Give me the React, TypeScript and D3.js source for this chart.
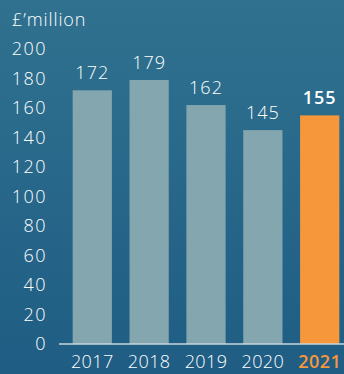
import React from "react";
import * as d3 from "d3";

const years = ["2017", "2018", "2019", "2020", "2021"];
const values = [172, 179, 162, 145, 155];
const yTicks = [0, 20, 40, 60, 80, 100, 120, 140, 160, 180, 200];
const unitLabel = "£’million";

const W = 344;
const H = 374;
const FONT = "'Open Sans', sans-serif";

export default function App() {
  const x = d3.scaleBand<string>().domain(years).range([63, 349]).paddingInner(0.31).paddingOuter(0.17);
  const y = d3.scaleLinear().domain([0, 200]).range([344, 49]);
  const last = years.length - 1;
  return (
    <svg width={W} height={H} style={{ position: "absolute", left: 0, top: 0, display: "block" }}>
      <defs>
        <linearGradient id="bg" x1="0" y1="0" x2="0" y2="1">
          <stop offset="0" stopColor="#30718f" />
          <stop offset="1" stopColor="#1f5d84" />
        </linearGradient>
      </defs>
      <rect x={0} y={0} width={W} height={H} fill="url(#bg)" />
      <text x={12} y={26} fill="#ffffff" fontFamily={FONT} fontSize={18} fontWeight={300} letterSpacing={0.9}>{unitLabel}</text>
      {yTicks.map((t) => (
        <text key={t} x={47} y={y(t)} dy="0.36em" textAnchor="end" fill="#ffffff" fontFamily={FONT} fontSize={18} fontWeight={300} letterSpacing={1.5}>{t}</text>
      ))}
      {years.map((yr, i) => (
        <g key={yr}>
          <rect x={x(yr)} y={y(values[i])} width={x.bandwidth()} height={y(0) - y(values[i])} fill={i === last ? "#f7973b" : "#84a6ae"} />
          <text x={(x(yr) as number) + x.bandwidth() / 2} y={y(values[i]) - 11} textAnchor="middle" fill="#ffffff" fontFamily={FONT} fontSize={18} fontWeight={i === last ? 600 : 300} letterSpacing={1}>{values[i]}</text>
          <text x={(x(yr) as number) + x.bandwidth() / 2} y={368} textAnchor="middle" fill={i === last ? "#f7973b" : "#ffffff"} fontFamily={FONT} fontSize={18} fontWeight={i === last ? 600 : 300} letterSpacing={0.4}>{yr}</text>
        </g>
      ))}
      <line x1={59} x2={W} y1={344} y2={344} stroke="#c9d5dc" strokeWidth={1.5} />
    </svg>
  );
}
